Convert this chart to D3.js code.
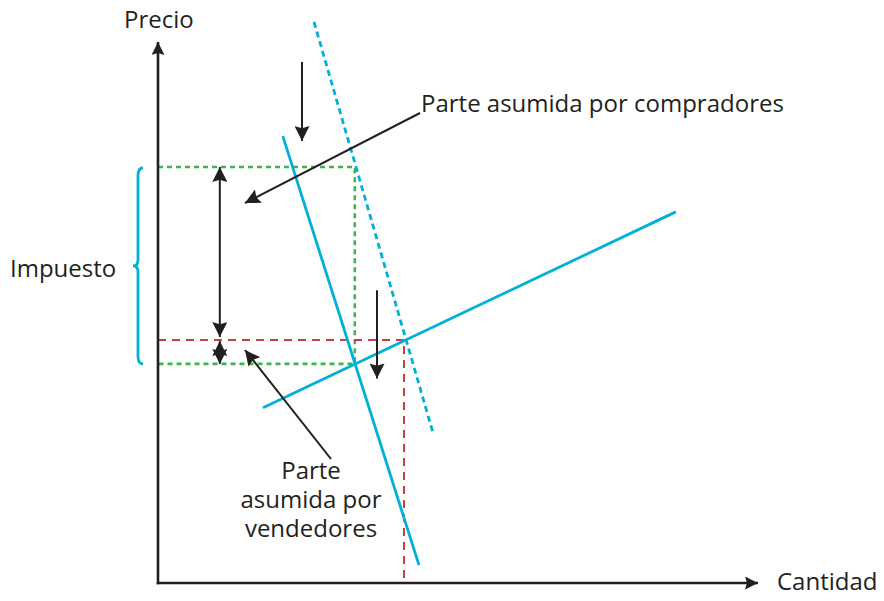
<!DOCTYPE html>
<html>
<head>
<meta charset="utf-8">
<script src="https://cdn.jsdelivr.net/npm/d3@7"></script>
<style>
  body { margin: 0; background: #fff; }
  svg text { font-family: "Open Sans", "Noto Sans", sans-serif; fill: #231f20; }
</style>
</head>
<body>
<div id="chart"></div>
<script>
// Tax incidence diagram: supply, demand, demand shifted by the tax

// lines in data units (quantity, price)
var supply = [[17.5, 32.4], [86.3, 68.6]];
var demand = [[20.8, 82.6], [43.5, 3.3]];
var demandShift = [[26.0, 103.7], [45.8, 27.9]];

// equilibrium values
var q0 = 41.0, p0 = 44.9;      // before tax
var qT = 32.8;                  // after tax
var pBuyer = 76.9, pSeller = 40.5;

// shift arrows (quantity, price from, price to)
var shiftArrows = [[24.0, 96.3, 81.7], [36.5, 54.1, 37.8]];

var axisLabels = ['Precio', 'Cantidad'];
var taxLabel = 'Impuesto';
var buyerLabel = 'Parte asumida por compradores';
var sellerLabel = ['Parte', 'asumida por', 'vendedores'];

var width = 884, height = 601;
var ink = '#231f20', blue = '#00b0d8', green = '#3db54a', red = '#c9403f';
var fontSize = '24px';

var svg = d3.select('#chart').append('svg')
            .attr('width', width)
            .attr('height', height);

var x = d3.scaleLinear().domain([0, 100]).range([158, 758]);
var y = d3.scaleLinear().domain([0, 100]).range([583, 42]);

// arrow heads
var defs = svg.append('defs');
defs.append('marker')
    .attr('id', 'head')
    .attr('viewBox', '0 0 10 10')
    .attr('refX', 10).attr('refY', 5)
    .attr('markerUnits', 'userSpaceOnUse')
    .attr('markerWidth', 16).attr('markerHeight', 15)
    .attr('orient', 'auto-start-reverse')
    .append('path')
    .attr('d', 'M0,0 L10,5 L0,10 L1.5,5 Z')
    .attr('fill', ink);
defs.append('marker')
    .attr('id', 'axishead')
    .attr('viewBox', '0 0 10 10')
    .attr('refX', 10).attr('refY', 5)
    .attr('markerUnits', 'userSpaceOnUse')
    .attr('markerWidth', 20).attr('markerHeight', 13)
    .attr('orient', 'auto')
    .append('path')
    .attr('d', 'M0,0 L10,5 L0,10 L1.5,5 Z')
    .attr('fill', ink);

var line = d3.line()
            .x(function(d) { return x(d[0]); })
            .y(function(d) { return y(d[1]); });

// dashed guide lines
var g = svg.append('g');
g.append('path')
    .attr('d', line([[0, pBuyer], [qT, pBuyer], [qT, pSeller], [0, pSeller]]))
    .attr('fill', 'none').attr('stroke', green)
    .attr('stroke-width', 2.6).attr('stroke-dasharray', '5,4');
g.append('path')
    .attr('d', line([[0, p0], [q0, p0], [q0, 0]]))
    .attr('fill', 'none').attr('stroke', red)
    .attr('stroke-width', 2).attr('stroke-dasharray', '8,6');

// supply & demand
g.append('path').attr('d', line(demandShift))
    .attr('stroke', blue).attr('stroke-width', 2.8)
    .attr('stroke-dasharray', '6,4');
g.append('path').attr('d', line(demand))
    .attr('stroke', blue).attr('stroke-width', 2.8);
g.append('path').attr('d', line(supply))
    .attr('stroke', blue).attr('stroke-width', 2.8);

// axes
svg.append('line')
    .attr('x1', x(0)).attr('y1', y(0) + 1.3).attr('x2', x(0)).attr('y2', y(100))
    .attr('stroke', ink).attr('stroke-width', 2.6)
    .attr('marker-end', 'url(#axishead)');
svg.append('line')
    .attr('x1', x(0) - 1.3).attr('y1', y(0)).attr('x2', x(100)).attr('y2', y(0))
    .attr('stroke', ink).attr('stroke-width', 2.6)
    .attr('marker-end', 'url(#axishead)');
svg.append('text').attr('x', 124).attr('y', 28)
    .style('font-size', fontSize).text(axisLabels[0]);
svg.append('text').attr('x', 777).attr('y', 590)
    .style('font-size', fontSize).text(axisLabels[1]);

// shift arrows
svg.selectAll('line.shift')
    .data(shiftArrows)
    .enter().append('line').attr('class', 'shift')
    .attr('x1', function(d) { return x(d[0]); })
    .attr('x2', function(d) { return x(d[0]); })
    .attr('y1', function(d) { return y(d[1]); })
    .attr('y2', function(d) { return y(d[2]); })
    .attr('stroke', ink).attr('stroke-width', 2)
    .attr('marker-end', 'url(#head)');

// tax double arrows
var ax = 10.3;
svg.append('line')
    .attr('x1', x(ax)).attr('x2', x(ax))
    .attr('y1', y(pBuyer)).attr('y2', y(p0) - 3)
    .attr('stroke', ink).attr('stroke-width', 2)
    .attr('marker-start', 'url(#head)')
    .attr('marker-end', 'url(#head)');
svg.append('line')
    .attr('x1', x(ax)).attr('x2', x(ax))
    .attr('y1', y(p0) + 1).attr('y2', y(pSeller))
    .attr('stroke', ink).attr('stroke-width', 2)
    .attr('marker-start', 'url(#head)')
    .attr('marker-end', 'url(#head)');

// brace
var bx = 138, bTop = y(pBuyer) + 1, bBot = y(pSeller), bMid = (bTop + bBot) / 2;
svg.append('path')
    .attr('d', 'M' + (bx + 5) + ',' + bTop +
               ' Q' + bx + ',' + bTop + ' ' + bx + ',' + (bTop + 8) +
               ' L' + bx + ',' + (bMid - 6) +
               ' Q' + bx + ',' + bMid + ' ' + (bx - 5) + ',' + bMid +
               ' Q' + bx + ',' + bMid + ' ' + bx + ',' + (bMid + 6) +
               ' L' + bx + ',' + (bBot - 8) +
               ' Q' + bx + ',' + bBot + ' ' + (bx + 5) + ',' + bBot)
    .attr('fill', 'none').attr('stroke', blue).attr('stroke-width', 2.8);
svg.append('text').attr('x', 10).attr('y', 277)
    .style('font-size', fontSize).text(taxLabel);

// pointer to the buyers' share
svg.append('line')
    .attr('x1', 420).attr('y1', 113)
    .attr('x2', x(14.5)).attr('y2', 203)
    .attr('stroke', ink).attr('stroke-width', 2)
    .attr('marker-end', 'url(#head)');
svg.append('text').attr('x', 421).attr('y', 112)
    .style('font-size', fontSize).text(buyerLabel);

// pointer to the sellers' share
svg.append('line')
    .attr('x1', 331).attr('y1', 459)
    .attr('x2', x(14.5)).attr('y2', 350)
    .attr('stroke', ink).attr('stroke-width', 2)
    .attr('marker-end', 'url(#head)');
svg.append('text')
    .attr('text-anchor', 'middle')
    .style('font-size', fontSize)
    .selectAll('tspan')
    .data(sellerLabel)
    .enter().append('tspan')
    .attr('x', 311)
    .attr('y', function(d, i) { return 479 + i * 29; })
    .text(function(d) { return d; });
</script>
</body>
</html>
